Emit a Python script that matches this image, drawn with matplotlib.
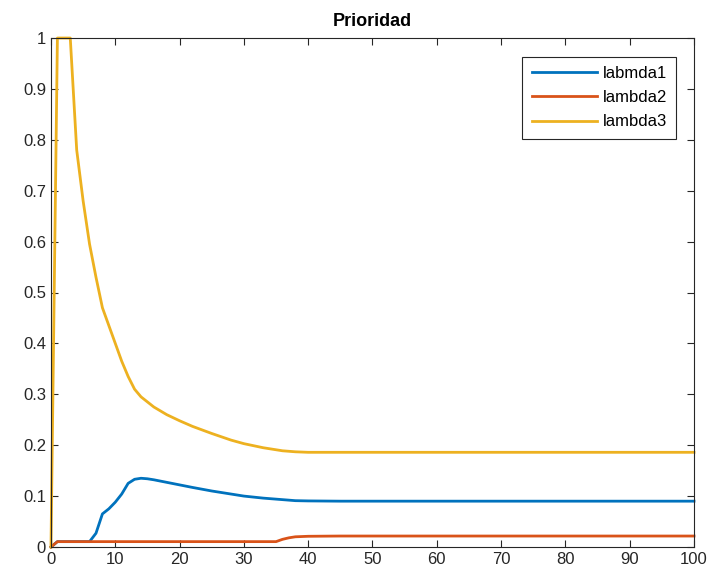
import matplotlib
matplotlib.use("Agg")
import matplotlib.pyplot as plt

plt.rcParams['font.family'] = ['Liberation Sans', 'DejaVu Sans']

# readings
x_l1 = [0, 1, 2, 3, 4, 5, 6, 7, 8, 9, 10, 11, 12, 13, 14, 15, 16, 18, 20, 22, 25, 28, 30, 33, 36, 38, 40, 45, 50, 60, 70, 80, 90, 100]
labmda1 = [0, 0.0105, 0.0105, 0.0105, 0.0105, 0.0105, 0.0105, 0.027, 0.065, 0.075, 0.088, 0.104, 0.125, 0.133, 0.135, 0.134, 0.132, 0.127, 0.122, 0.117, 0.110, 0.104, 0.100, 0.096, 0.093, 0.091, 0.0905, 0.09, 0.09, 0.09, 0.09, 0.09, 0.09, 0.09]

x_l2 = [0, 1, 10, 20, 30, 35, 36, 37, 38, 40, 45, 50, 60, 70, 80, 90, 100]
lambda2 = [0, 0.0105, 0.0105, 0.0105, 0.0105, 0.0105, 0.015, 0.018, 0.020, 0.021, 0.0215, 0.0215, 0.0215, 0.0215, 0.0215, 0.0215, 0.0215]

x_l3 = [0, 1, 2, 3, 4, 5, 6, 7, 8, 9, 10, 11, 12, 13, 14, 16, 18, 20, 22, 25, 28, 30, 33, 36, 38, 40, 50, 60, 70, 80, 90, 100]
lambda3 = [0, 1, 1, 1, 0.78, 0.68, 0.595, 0.53, 0.47, 0.435, 0.40, 0.365, 0.335, 0.31, 0.295, 0.275, 0.26, 0.248, 0.237, 0.223, 0.21, 0.203, 0.195, 0.189, 0.187, 0.186, 0.186, 0.186, 0.186, 0.186, 0.186, 0.186]

labels = ['labmda1', 'lambda2', 'lambda3']
colors = ['#0072BD', '#D95319', '#EDB120']

fig = plt.figure(figsize=(7.14, 5.85), dpi=100)
ax = fig.add_axes([0.0714, 0.065, 0.9006, 0.870])

ax.plot(x_l1, labmda1, color=colors[0], lw=2, label=labels[0], clip_on=False)
ax.plot(x_l2, lambda2, color=colors[1], lw=2, label=labels[1], clip_on=False)
ax.plot(x_l3, lambda3, color=colors[2], lw=2, label=labels[2], clip_on=False)

ax.set_xlim(0, 100)
ax.set_ylim(0, 1)
ax.set_xticks(range(0, 101, 10))
ax.set_yticks([i / 10 for i in range(11)])
ax.set_yticklabels(['0', '0.1', '0.2', '0.3', '0.4', '0.5', '0.6', '0.7', '0.8', '0.9', '1'])
ax.tick_params(direction='in', top=True, right=True, length=5, labelsize=12, color='#262626', labelcolor='#262626')
for s in ax.spines.values():
    s.set_color('#262626')
    s.set_linewidth(0.8)

ax.set_title('Prioridad', fontsize=13, fontweight='bold', pad=9)
leg = ax.legend(loc='upper right', fontsize=12, fancybox=False, framealpha=1,
                edgecolor='#262626', bbox_to_anchor=(0.972, 0.963),
                handlelength=3.9, borderpad=0.55, labelspacing=0.55,
                handletextpad=0.35, borderaxespad=0)
leg.get_frame().set_linewidth(0.8)

fig.savefig('out.png', dpi=100)
